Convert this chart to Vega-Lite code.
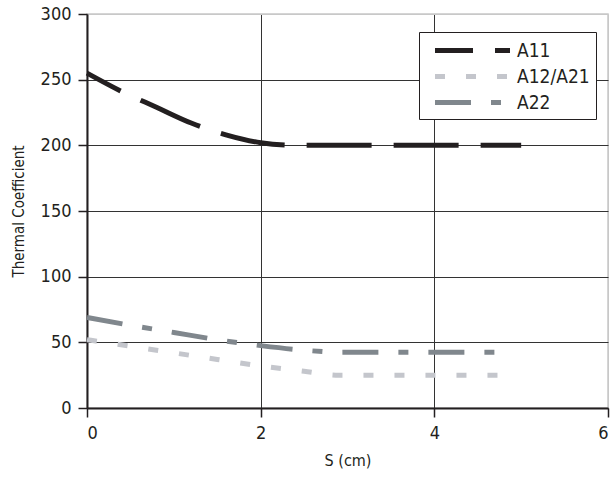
{
  "$schema": "https://vega.github.io/schema/vega-lite/v6.json",
  "width": 521,
  "height": 394,
  "autosize": "none",
  "padding": {"left": 87, "top": 14, "right": 2, "bottom": 69},
  "background": "white",
  "config": {
    "view": {"stroke": "#c8c8c8", "strokeWidth": 1.5},
    "font": "DejaVu Sans Condensed, Roboto, sans-serif"
  },
  "data": {
    "values": [
      {"series": "A11", "S": 0, "T": 255},
      {"series": "A11", "S": 0.4, "T": 241},
      {"series": "A11", "S": 0.8, "T": 229},
      {"series": "A11", "S": 1.2, "T": 217},
      {"series": "A11", "S": 1.6, "T": 208},
      {"series": "A11", "S": 2.0, "T": 202},
      {"series": "A11", "S": 2.4, "T": 200},
      {"series": "A11", "S": 5.0, "T": 200},
      {"series": "A12/A21", "S": 0, "T": 52},
      {"series": "A12/A21", "S": 0.5, "T": 47},
      {"series": "A12/A21", "S": 1.0, "T": 42},
      {"series": "A12/A21", "S": 1.5, "T": 37},
      {"series": "A12/A21", "S": 2.0, "T": 32},
      {"series": "A12/A21", "S": 2.5, "T": 28},
      {"series": "A12/A21", "S": 2.9, "T": 25},
      {"series": "A12/A21", "S": 4.85, "T": 25},
      {"series": "A22", "S": 0, "T": 69},
      {"series": "A22", "S": 0.5, "T": 63},
      {"series": "A22", "S": 1.0, "T": 57.5},
      {"series": "A22", "S": 1.5, "T": 52},
      {"series": "A22", "S": 2.0, "T": 47.5},
      {"series": "A22", "S": 2.5, "T": 44},
      {"series": "A22", "S": 2.9, "T": 42.5},
      {"series": "A22", "S": 4.8, "T": 42.5}
    ]
  },
  "mark": {"type": "line", "strokeWidth": 5, "interpolate": "monotone", "strokeCap": "butt"},
  "encoding": {
    "x": {
      "field": "S", "type": "quantitative",
      "scale": {"domain": [0, 6], "nice": false},
      "axis": {
        "title": "S (cm)", "values": [0, 2, 4, 6],
        "grid": true,
        "gridColor": {"condition": {"test": "datum.value == 6", "value": "#c8c8c8"}, "value": "#333333"},
        "gridWidth": 1,
        "domainColor": "#231f20", "domainWidth": 2,
        "tickColor": "#231f20", "tickSize": 9, "tickWidth": 1.5,
        "labelFontSize": 18, "labelColor": "#231f20", "labelPadding": 7,
        "titleFontSize": 16, "titleFontWeight": "normal", "titleColor": "#231f20", "titlePadding": 10
      }
    },
    "y": {
      "field": "T", "type": "quantitative",
      "scale": {"domain": [0, 300], "nice": false},
      "axis": {
        "title": "Thermal Coefficient", "values": [0, 50, 100, 150, 200, 250, 300],
        "grid": true,
        "gridColor": {"condition": {"test": "datum.value == 300", "value": "#c8c8c8"}, "value": "#333333"},
        "gridWidth": 1,
        "domainColor": "#231f20", "domainWidth": 2,
        "tickColor": "#231f20", "tickSize": 9, "tickWidth": 1.5,
        "labelFontSize": 18, "labelColor": "#231f20", "labelPadding": 7,
        "titleFontSize": 15, "titleFontWeight": "normal", "titleColor": "#231f20", "titlePadding": 14
      }
    },
    "color": {
      "field": "series", "type": "nominal",
      "scale": {"domain": ["A11", "A12/A21", "A22"], "range": ["#231f20", "#c4c6cc", "#80878d"]},
      "legend": {
        "title": null, "orient": "none", "legendX": 332, "legendY": 18,
        "strokeColor": "#231f20", "fillColor": "white", "padding": 6,
        "symbolType": "M-3.75,0H3.75", "symbolSize": 400, "symbolStrokeWidth": 5, "symbolOffset": 35,
        "labelFontSize": 19, "labelColor": "#231f20", "labelOffset": 32, "rowPadding": 3
      }
    },
    "strokeDash": {
      "field": "series", "type": "nominal",
      "scale": {"domain": ["A11", "A12/A21", "A22"], "range": [[38, 22, 65, 22, 65, 22, 65, 22, 65, 22, 65, 22, 65, 22, 65, 22], [10, 21], [36, 20, 10, 20]]},
      "legend": {
        "title": null, "orient": "none", "legendX": 332, "legendY": 18,
        "strokeColor": "#231f20", "fillColor": "white", "padding": 6,
        "symbolType": "M-3.75,0H3.75", "symbolSize": 400, "symbolStrokeWidth": 5, "symbolOffset": 35,
        "labelFontSize": 19, "labelColor": "#231f20", "labelOffset": 32, "rowPadding": 3
      }
    }
  }
}
